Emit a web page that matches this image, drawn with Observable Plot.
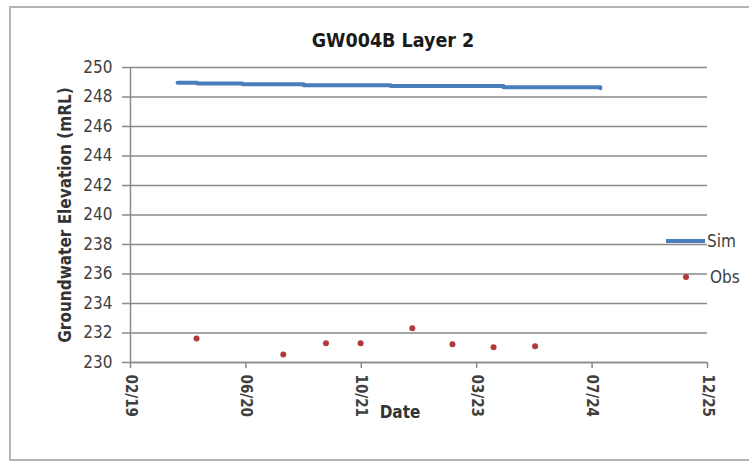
<!DOCTYPE html>
<html>
<head>
<meta charset="utf-8">
<script src="https://cdn.jsdelivr.net/npm/d3@7"></script>
<script src="https://cdn.jsdelivr.net/npm/@observablehq/plot@0.6"></script>
<style>
  html, body { margin: 0; padding: 0; background: #fff; }
  body { font-family: "Liberation Sans Narrow", "DejaVu Sans Condensed", Lato, sans-serif; }
  #wrap { position: relative; width: 749px; height: 462px; overflow: hidden; }
  #frame { position: absolute; left: 9px; top: 6px; width: 760px; height: 455px; border: 2px solid #b4b4b4; box-sizing: border-box; }
  #title { position: absolute; left: 0; width: 786px; top: 29px; text-align: center; font-weight: bold; font-size: 19.5px; color: #1a1a1a; }
  #chart { position: absolute; left: 0; top: 0; }
  .leg { position: absolute; font-size: 17px; color: #404040; line-height: 20px; }
  .sw-line { position: absolute; height: 4px; background: #4a7ebb; }
  .sw-dot { position: absolute; width: 6px; height: 6px; border-radius: 50%; background: #b03a3a; }
</style>
</head>
<body>
<div id="wrap">
  <div id="frame"></div>
  <div id="chart"></div>
  <div id="title">GW004B Layer 2</div>
  <div class="sw-line" style="left:666px; top:239px; width:39px;"></div>
  <div class="leg" style="left:707px; top:231px;">Sim</div>
  <div class="sw-dot" style="left:683px; top:274px;"></div>
  <div class="leg" style="left:710px; top:267px;">Obs</div>
</div>
<script>
// ---- data ----
const simDates  = ["2019-08-27","2019-11-21","2020-06-03","2021-02-23","2022-03-07","2023-07-09","2024-09-01"];
const simValues = [248.96, 248.92, 248.86, 248.80, 248.74, 248.66, 248.60];

const obsDates  = ["2019-11-17","2020-11-27","2021-05-31","2021-10-28","2022-06-09","2022-11-30","2023-05-27","2023-11-23"];
const obsValues = [231.62, 230.54, 231.30, 231.30, 232.32, 231.24, 231.03, 231.10];

const xTickDates  = ["2019-02-04","2020-06-18","2021-10-31","2023-03-15","2024-07-27","2025-12-09"];
const xTickLabels = ["02/19","06/20","10/21","03/23","07/24","12/25"];
const yTicks = [230, 232, 234, 236, 238, 240, 242, 244, 246, 248, 250];

// ---- build tables ----
const parse = d3.utcParse("%Y-%m-%d");
const sim = simDates.map((d, i) => ({date: parse(d), value: simValues[i]}));
const obs = obsDates.map((d, i) => ({date: parse(d), value: obsValues[i]}));
const xTicks = xTickDates.map(parse);
const labelOf = new Map(xTicks.map((d, i) => [+d, xTickLabels[i]]));

const chart = Plot.plot({
  width: 749,
  height: 462,
  marginLeft: 130,
  marginRight: 42,
  marginTop: 67,
  marginBottom: 100,
  style: {
    fontFamily: '"Liberation Sans Narrow", "DejaVu Sans Condensed", Lato, sans-serif',
    fontSize: "17px",
    color: "#404040",
    background: "transparent"
  },
  x: {type: "utc", domain: [xTicks[0], xTicks[xTicks.length - 1]]},
  y: {domain: [yTicks[0], yTicks[yTicks.length - 1]]},
  marks: [
    Plot.gridY(yTicks, {stroke: "#8a8a8a", strokeOpacity: 1, strokeWidth: 1.5}),
    Plot.ruleX([xTicks[0]], {stroke: "#8a8a8a", strokeWidth: 1.5}),
    Plot.ruleY([yTicks[0]], {stroke: "#8a8a8a", strokeWidth: 1.5}),
    Plot.axisY(yTicks, {
      tickSize: 8, tickPadding: 10, stroke: "#8a8a8a", strokeWidth: 1.5,
      label: "Groundwater Elevation (mRL)", labelAnchor: "center", labelArrow: "none",
      labelOffset: 72, fontWeight: "normal"
    }),
    Plot.axisX(xTicks, {
      tickSize: 6, tickPadding: 6, tickRotate: 90, stroke: "#8a8a8a", strokeWidth: 1.5,
      tickFormat: d => labelOf.get(+d), fontWeight: "bold", fontSize: 15,
      label: "Date", labelAnchor: "center", labelArrow: "none", labelOffset: 52
    }),
    Plot.line(sim, {x: "date", y: "value", stroke: "#4a7ebb", strokeWidth: 4, curve: "step-after"}),
    Plot.dot(obs, {x: "date", y: "value", r: 3, fill: "#b03a3a", stroke: "none"})
  ]
});
document.getElementById("chart").appendChild(chart);
// axis titles bold
chart.querySelectorAll("g[aria-label='y-axis label'] text, g[aria-label='x-axis label'] text").forEach(t => {
  t.setAttribute("font-weight", "bold");
  t.style.fill = "#333";
});
chart.querySelectorAll("g[aria-label='x-axis label'] text").forEach(t => {
  t.setAttribute("font-size", "17");
  t.setAttribute("dx", "-19");
  t.setAttribute("dy", "3");
});
</script>
</body>
</html>
